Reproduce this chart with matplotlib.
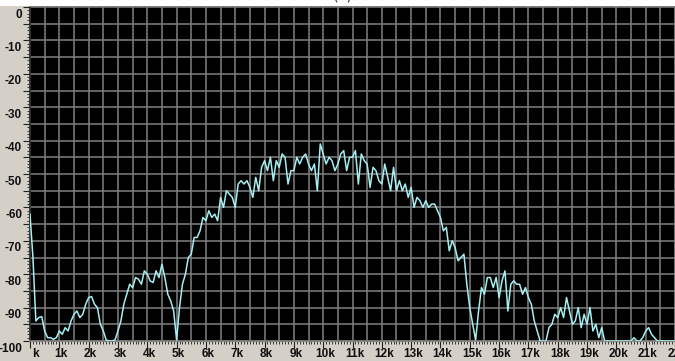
import numpy as np
import matplotlib
matplotlib.use("Agg")
import matplotlib.pyplot as plt
from matplotlib.patches import Rectangle
from matplotlib.transforms import ScaledTranslation
from matplotlib.ticker import MultipleLocator, NullFormatter

# Spectrum analyser trace: level (dB) every 0.1 kHz from 0 to 22 kHz
freq_khz = np.linspace(0.0, 22.0, 221)
level_db = [
    -62, -75, -94, -93, -92.7, -97, -99, -99, -99.5, -99, -97,
    -98, -96, -97, -94, -92, -91, -93, -92, -89, -87,
    -86.7, -89, -90, -95, -97, -99.7, -100, -100, -99.7, -97,
    -94, -89, -86, -83, -84, -81, -81.5, -83, -79, -80,
    -82, -82.5, -79, -81, -77, -81, -86, -88, -91, -99.7,
    -90, -83, -80, -75, -74, -69, -69, -67, -63, -64,
    -61, -63, -62, -64, -57, -60, -55, -56, -57, -60,
    -53, -52, -53, -52, -54, -57, -51, -55, -48, -46,
    -49, -45, -52, -46, -48, -44, -45, -53, -49, -49,
    -45, -47, -45, -44, -47, -49, -47, -55, -41, -44,
    -47, -45, -46, -49, -47, -44, -43, -49, -45, -45,
    -43, -53, -44, -46, -47, -54, -48, -49, -52, -53,
    -47, -51, -55, -48, -55, -52, -55, -53, -57, -54,
    -60, -57, -58, -60, -58, -60, -59, -59, -61, -63,
    -67, -66, -73, -70, -72, -76, -75, -74, -83, -90,
    -95, -99.7, -91, -84, -86, -81, -81, -84, -81, -87,
    -82, -79, -91, -83, -82, -83, -83, -86, -84, -87,
    -89, -94, -97, -100, -100, -100, -96, -95, -92, -93,
    -90, -93, -87, -91, -95, -94, -90, -96, -92, -95,
    -90, -97, -95, -99, -96, -100, -100, -100, -100, -100,
    -100, -100, -100, -100, -100, -99, -100, -100, -99, -97,
    -96, -98, -99, -100, -100, -100, -100, -100, -100, -100,
]

y_label_values = [0, -10, -20, -30, -40, -50, -60, -70, -80, -90, -100]
y_label_texts = ["0", "-10", "-20", "-30", "-40", "-50", "-60", "-70", "-80", "-90", "-100"]
x_label_values = list(range(0, 23))
x_label_texts = ["k"] + [f"{k}k" for k in range(1, 23)]

W, H = 675, 361
panel = "#d4d0c8"
grid_col = "#808080"
trace_col = "#a6eff0"

fig = plt.figure(figsize=(W / 100, H / 100), dpi=100, facecolor=panel)
ax = fig.add_axes([30 / W, 20 / H, 645 / W, 335 / H])
ax.set_facecolor("black")

# white strip along the top of the window
fig.patches.append(Rectangle((0, 1 - 6 / H), 1, 6 / H, transform=fig.transFigure,
                             facecolor="white", edgecolor="none", zorder=0))
fig.text(343 / W, 1 - 2.5 / H, "(c)", ha="center", va="bottom", fontsize=11,
         color="#404040")

ax.set_xlim(0, 22)
ax.set_ylim(-100, 0.3)

# grid every 0.5 kHz and 5 dB
for gx in np.arange(0.5, 22, 0.5):
    ax.axvline(gx, color=grid_col, lw=1.1, zorder=1)
for gy in np.arange(-95, 1, 5):
    ax.axhline(gy, color=grid_col, lw=1.1, zorder=1)

ax.plot(freq_khz, level_db, color=trace_col, lw=1.1, zorder=3, clip_on=True)

for s in ax.spines.values():
    s.set_color(grid_col)
    s.set_linewidth(1.3)
ax.spines["left"].set_color("#303030")

ax.xaxis.set_major_locator(MultipleLocator(1))
ax.xaxis.set_minor_locator(MultipleLocator(0.1))
ax.yaxis.set_major_locator(MultipleLocator(5))
ax.yaxis.set_minor_locator(MultipleLocator(1))
ax.xaxis.set_major_formatter(NullFormatter())
ax.yaxis.set_major_formatter(NullFormatter())
ax.tick_params(axis="both", which="major", direction="out", length=5, width=0.8,
               color="#202020")
ax.tick_params(axis="both", which="minor", direction="out", length=2.5, width=0.6,
               color="#202020")

lab_font = dict(family="Liberation Sans", weight="bold", size=8.5, color="#101010")
ytr = ax.get_yaxis_transform() + ScaledTranslation(-8 / 100, -7.5 / 100, fig.dpi_scale_trans)
for v, t in zip(y_label_values, y_label_texts):
    ax.text(0, v, t, transform=ytr, ha="right", va="center", clip_on=False, **lab_font)

xtr = ax.get_xaxis_transform() + ScaledTranslation(2 / 100, -13 / 100, fig.dpi_scale_trans)
for v, t in zip(x_label_values, x_label_texts):
    ax.text(v, 0, t, transform=xtr, ha="center" if v else "left", va="center",
            clip_on=False, **lab_font)

fig.savefig("out.png", dpi=100, facecolor=panel)
